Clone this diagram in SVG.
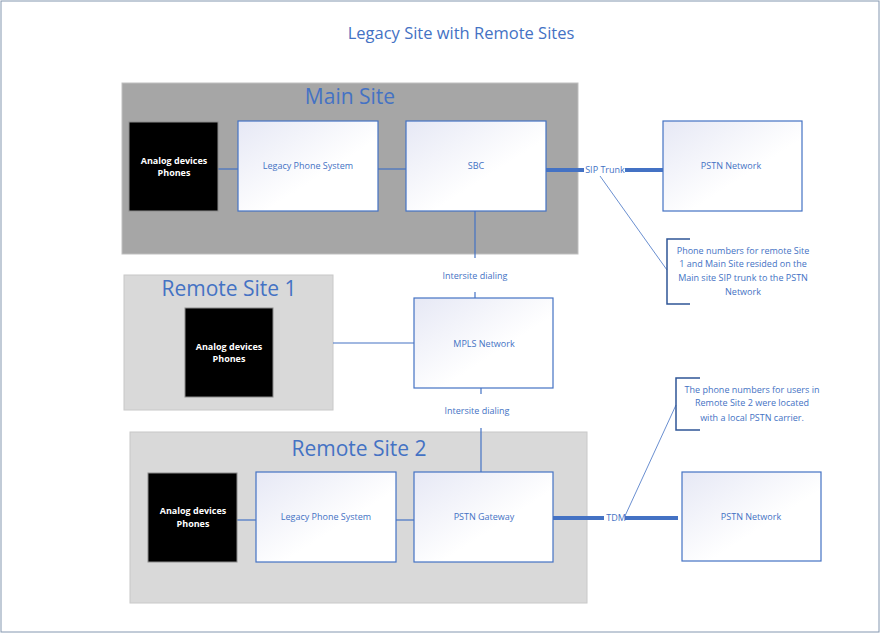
<svg xmlns="http://www.w3.org/2000/svg" width="881" height="634" viewBox="0 0 881 634">
<defs>
<linearGradient id="g" x1="0" y1="0" x2="1" y2="1">
<stop offset="0" stop-color="#E6E8F5"/>
<stop offset="0.6" stop-color="#FFFFFF"/>
<stop offset="1" stop-color="#FFFFFF"/>
</linearGradient>
</defs>
<style>
text{font-family:"Open Sans","Noto Sans","Liberation Sans",sans-serif;text-anchor:middle;dominant-baseline:middle}
.box{fill:url(#g);stroke:#4472C4;stroke-width:1.2}
.blk{fill:#000;stroke:#8C8C8C;stroke-width:1}
.lbl{font-size:9px;fill:#4472C4}
.wl{font-size:9px;fill:#fff;font-weight:bold}
.site{font-size:21px;fill:#4472C4}
.ln{stroke:#4472C4;stroke-width:1.2;fill:none}
.thk{stroke:#4472C4;stroke-width:4;fill:none}
.thin{stroke:#4472C4;stroke-width:0.8;fill:none}
.br{stroke:#2F5597;stroke-width:1.5;fill:none}
.note{font-size:9px;fill:#4472C4}
</style>
<rect x="1" y="1" width="878" height="631" fill="#fff" stroke="#8497B0" stroke-width="1"/>
<text x="461" y="35" style="font-size:16.5px;fill:#4472C4">Legacy Site with Remote Sites</text>

<g id="main-site">
<rect x="122" y="83" width="456" height="171" fill="#A6A6A6" stroke="#BFBFBF" stroke-width="1"/>
<text x="350" y="98" class="site">Main Site</text>
</g>
<g id="remote-site-1">
<rect x="124" y="275" width="209" height="135" fill="#D9D9D9" stroke="#C8C8C8" stroke-width="1"/>
<text x="229" y="290" class="site">Remote Site 1</text>
</g>
<g id="remote-site-2">
<rect x="130" y="432" width="457" height="171" fill="#D9D9D9" stroke="#C8C8C8" stroke-width="1"/>
<text x="359" y="450" class="site">Remote Site 2</text>
</g>

<g id="connectors">
<line x1="218" y1="169" x2="238" y2="169" class="ln"/>
<line x1="378" y1="169" x2="408" y2="169" class="ln"/>
<line x1="545" y1="170" x2="584" y2="170" class="thk"/>
<line x1="625" y1="170" x2="664" y2="170" class="thk"/>
<line x1="600" y1="176" x2="667" y2="270" class="thin"/>
<line x1="475" y1="211" x2="475" y2="258" class="ln"/>
<line x1="475" y1="292" x2="475" y2="298" class="ln"/>
<line x1="333" y1="343" x2="414" y2="343" class="ln"/>
<line x1="481" y1="388" x2="481" y2="394" class="ln"/>
<line x1="481" y1="428" x2="481" y2="472" class="ln"/>
<line x1="237" y1="520" x2="256" y2="520" class="ln"/>
<line x1="396" y1="520" x2="414" y2="520" class="ln"/>
<line x1="552" y1="518" x2="604" y2="518" class="thk"/>
<line x1="625" y1="518" x2="678" y2="518" class="thk"/>
<line x1="625" y1="516" x2="676" y2="405" class="thin"/>
<text x="605" y="171" class="lbl">SIP Trunk</text>
<text x="475" y="277" class="lbl">Intersite dialing</text>
<text x="477" y="412" class="lbl">Intersite dialing</text>
<text x="616" y="519" class="lbl">TDM</text>
</g>

<g id="analog-main">
<rect x="129" y="122" width="89" height="89" class="blk"/>
<text x="174" y="162" class="wl">Analog devices</text>
<text x="174" y="174" class="wl">Phones</text>
</g>
<g id="legacy-main">
<rect x="238" y="121" width="140" height="90" class="box"/>
<text x="308" y="167" class="lbl">Legacy Phone System</text>
</g>
<g id="sbc">
<rect x="406" y="121" width="140" height="90" class="box"/>
<text x="476" y="167" class="lbl">SBC</text>
</g>
<g id="pstn-main">
<rect x="663" y="121" width="139" height="90" class="box"/>
<text x="731" y="167" class="lbl">PSTN Network</text>
</g>
<g id="note-main">
<path d="M690 239 H667 V304 H690" class="br"/>
<text x="743" y="252" class="note">Phone numbers for remote Site</text>
<text x="743" y="265" class="note">1 and Main Site resided on the</text>
<text x="743" y="279" class="note">Main site SIP trunk to the PSTN</text>
<text x="743" y="293" class="note">Network</text>
</g>
<g id="mpls">
<rect x="414" y="298" width="139" height="90" class="box"/>
<text x="484" y="345" class="lbl">MPLS Network</text>
</g>
<g id="analog-r1">
<rect x="185" y="308" width="88" height="89" class="blk"/>
<text x="229" y="348" class="wl">Analog devices</text>
<text x="229" y="360" class="wl">Phones</text>
</g>
<g id="analog-r2">
<rect x="148" y="473" width="89" height="89" class="blk"/>
<text x="193" y="512" class="wl">Analog devices</text>
<text x="193" y="525" class="wl">Phones</text>
</g>
<g id="legacy-r2">
<rect x="256" y="472" width="140" height="90" class="box"/>
<text x="326" y="518" class="lbl">Legacy Phone System</text>
</g>
<g id="pstn-gateway">
<rect x="414" y="472" width="139" height="90" class="box"/>
<text x="484" y="518" class="lbl">PSTN Gateway</text>
</g>
<g id="pstn-r2">
<rect x="682" y="472" width="139" height="89" class="box"/>
<text x="751" y="518" class="lbl">PSTN Network</text>
</g>
<g id="note-r2">
<path d="M700 378 H676 V430 H700" class="br"/>
<text x="752" y="391" class="note">The phone numbers for users in</text>
<text x="752" y="404" class="note">Remote Site 2 were located</text>
<text x="752" y="419" class="note">with a local PSTN carrier.</text>
</g>
</svg>
